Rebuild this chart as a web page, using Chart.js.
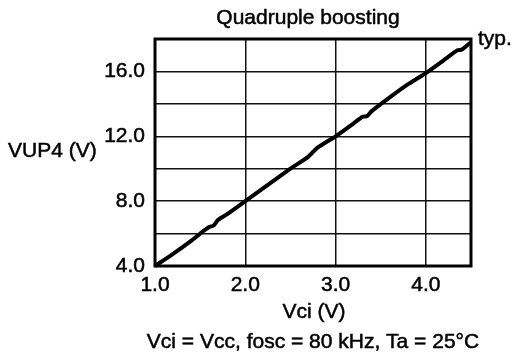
<!DOCTYPE html>
<html>
<head>
<meta charset="utf-8">
<script src="https://cdn.jsdelivr.net/npm/chart.js@4/dist/chart.umd.min.js"></script>
<style>
  html, body { margin: 0; padding: 0; background: #fff; }
  #box { width: 516px; height: 363px; }
</style>
</head>
<body>
<div id="box"><canvas id="c"></canvas></div>
<script>
// VUP4 output vs. Vci input, quadruple boosting (typical curve)
const vci  = [1.0, 1.2, 1.4, 1.5, 1.6, 1.65, 1.7, 1.8, 2.0, 2.2, 2.5, 2.7, 2.8, 3.0,
              3.2, 3.3, 3.35, 3.4, 3.6, 3.8, 4.0, 4.2, 4.35, 4.4, 4.5]
const vup4 = [4.0, 4.75, 5.55, 6.0, 6.4, 6.5, 6.85, 7.2, 8.0, 8.8, 10.0, 10.75, 11.3, 12.0,
              12.8, 13.2, 13.25, 13.55, 14.4, 15.2, 15.9, 16.7, 17.3, 17.35, 17.8]

const xTicks = [1, 2, 3, 4]
const yTicks = [4, 6, 8, 10, 12, 14, 16, 18]
const yLabeled = [4, 8, 12, 16]

const FONT = "'Liberation Sans', Arial, Helvetica, sans-serif"
Chart.defaults.font.family = FONT
Chart.defaults.font.size = 21
Chart.defaults.color = '#000'

const grid = {
  color: '#111',
  lineWidth: 1.5,
  borderDash: [2, 1],
  drawTicks: false,
}

// slight stroke so the lettering reads as heavy as the printed original
const tickText = { textStrokeColor: '#000', textStrokeWidth: 0.5 }

// frame + free-standing labels
const annotations = {
  id: 'annotations',
  beforeDatasetsDraw(chart) {
    const { ctx, chartArea: a } = chart
    ctx.save()
    ctx.strokeStyle = '#000'
    ctx.lineWidth = 3
    ctx.strokeRect(a.left, a.top, a.right - a.left, a.bottom - a.top)
    ctx.restore()
  },
  afterDraw(chart) {
    const { ctx, chartArea: a } = chart
    const text = (s, x, y, align) => {
      ctx.textAlign = align
      ctx.fillText(s, x, y)
      ctx.strokeText(s, x, y)
    }
    ctx.save()
    ctx.fillStyle = '#000'
    ctx.strokeStyle = '#000'
    ctx.lineWidth = 0.5
    ctx.font = `21px ${FONT}`
    ctx.textBaseline = 'alphabetic'
    text('Quadruple boosting', 308, 24, 'center')
    text('Vci (V)', 314, 318, 'center')
    text('Vci = Vcc, fosc = 80 kHz, Ta = 25°C', 313, 348, 'center')
    text('typ.', a.right + 7, 45, 'left')
    text('VUP4 (V)', 8, 157, 'left')
    ctx.restore()
  },
}

new Chart(document.getElementById('c'), {
  type: 'line',
  data: {
    datasets: [{
      data: vci.map((x, i) => ({ x, y: vup4[i] })),
      borderColor: '#000',
      borderWidth: 4,
      pointRadius: 0,
      tension: 0.2,
      clip: false,
    }],
  },
  options: {
    responsive: true,
    maintainAspectRatio: false,
    animation: false,
    events: [],
    layout: { padding: { left: 0, right: 45, top: 39, bottom: 0 } },
    plugins: { legend: { display: false }, tooltip: { enabled: false } },
    scales: {
      x: {
        type: 'linear',
        min: 1, max: 4.5,
        afterBuildTicks: s => { s.ticks = xTicks.map(value => ({ value })) },
        afterFit: s => { s.height = 97 },
        grid,
        border: { display: false },
        ticks: { ...tickText, padding: 7, maxRotation: 0, callback: v => v.toFixed(1) },
      },
      y: {
        min: 4, max: 18,
        afterBuildTicks: s => { s.ticks = yTicks.map(value => ({ value })) },
        afterFit: s => { s.width = 155 },
        grid,
        border: { display: false },
        ticks: {
          ...tickText,
          padding: 10,
          callback: v => yLabeled.includes(v) ? v.toFixed(1) : '',
        },
      },
    },
  },
  plugins: [annotations],
})
</script>
</body>
</html>
